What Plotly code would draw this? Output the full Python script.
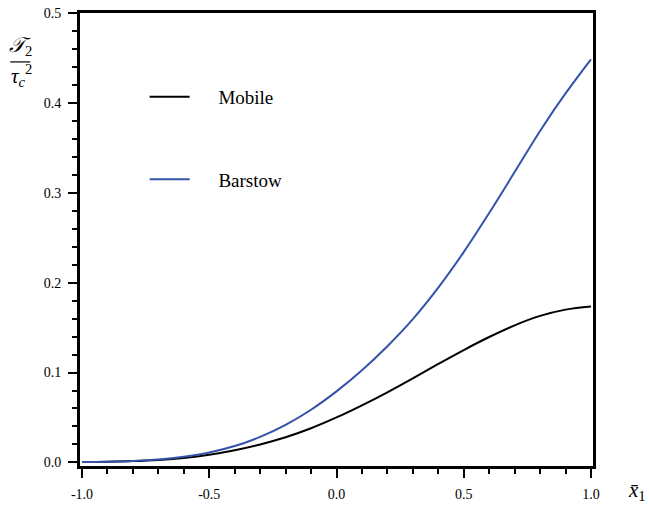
import plotly.graph_objects as go

# Normalised position along the span
x_vals = [-1.0, -0.9, -0.8, -0.7, -0.6, -0.5, -0.4, -0.3, -0.2, -0.1, 0.0,
          0.1, 0.2, 0.3, 0.4, 0.5, 0.6, 0.7, 0.8, 0.9, 1.0]

# Normalised quantity T2 / tau_c^2 for each site
mobile = [0.0005, 0.0008, 0.0015, 0.0028, 0.0050, 0.0085, 0.0135, 0.0200, 0.0280, 0.0380, 0.0500,
          0.0635, 0.0780, 0.0935, 0.1095, 0.1250, 0.1395, 0.1525, 0.1630, 0.1700, 0.1735]
barstow = [0.0005, 0.0008, 0.0016, 0.0032, 0.0062, 0.0110, 0.0182, 0.0284, 0.0418, 0.0586, 0.0790,
           0.1025, 0.1293, 0.1595, 0.1945, 0.2340, 0.2775, 0.3230, 0.3688, 0.4105, 0.4485]

x_ticks = [-1.0, -0.5, 0.0, 0.5, 1.0]
x_tick_text = ["-1.0", "-0.5", "0.0", "0.5", "1.0"]
y_ticks = [0.0, 0.1, 0.2, 0.3, 0.4, 0.5]
y_tick_text = ["0.0", "0.1", "0.2", "0.3", "0.4", "0.5"]

SERIF = "Liberation Serif, Times New Roman, serif"
GAP = "\u00a0" * 5  # space between legend sample line and label

fig = go.Figure()
fig.add_trace(go.Scatter(x=x_vals, y=mobile, mode="lines", name=GAP + "Mobile",
                         line=dict(color="#000000", width=2, shape="spline"),
                         legendgroup="a"))
fig.add_trace(go.Scatter(x=x_vals, y=barstow, mode="lines", name=GAP + "Barstow",
                         line=dict(color="#3352a8", width=2, shape="spline"),
                         legendgroup="b"))

axis_common = dict(
    showline=True, linewidth=3, linecolor="black", mirror=True,
    ticks="outside", ticklen=9, tickwidth=2, tickcolor="black",
    showgrid=False, zeroline=False, automargin=False,
    tickfont=dict(family=SERIF, size=14, color="black"),
)

fig.update_xaxes(range=[-1.008, 1.008], tickvals=x_ticks, ticktext=x_tick_text,
                 ticklabelstandoff=4,
                 minor=dict(dtick=0.1, tick0=-1.0, ticks="outside", ticklen=5,
                            tickwidth=2, tickcolor="black"),
                 **axis_common)
fig.update_yaxes(range=[-0.004, 0.5], tickvals=y_ticks, ticktext=y_tick_text,
                 ticklabelstandoff=4,
                 minor=dict(dtick=0.02, tick0=0.0, ticks="outside", ticklen=5,
                            tickwidth=2, tickcolor="black"),
                 **axis_common)

# Axis labels: x-bar-1 past the right end, T2 / tau_c^2 fraction at the top left
label_font = dict(family=SERIF, size=21, color="black")
fig.add_annotation(text="<i>x\u0304</i><sub>1</sub>", xref="paper", yref="paper",
                   x=1.0, y=0.0, xanchor="center", yanchor="middle",
                   xshift=44, yshift=-25, showarrow=False, font=label_font)
fig.add_annotation(text="<i>\U0001D4AF</i><sub>2</sub>", xref="paper", yref="paper",
                   x=0.0, y=1.0, xanchor="center", yanchor="middle",
                   xshift=-60, yshift=-33, showarrow=False, font=label_font)
fig.add_annotation(text="<i>τ<sub>c</sub></i><sup>2</sup>", xref="paper", yref="paper",
                   x=0.0, y=1.0, xanchor="center", yanchor="middle",
                   xshift=-59, yshift=-62, showarrow=False, font=label_font)
fig.add_shape(type="line", xref="paper", yref="paper", x0=-0.136, x1=-0.097,
              y0=0.892, y1=0.892, line=dict(color="black", width=1.2))

fig.update_layout(
    width=649, height=505,
    margin=dict(l=80, r=56, t=13, b=39),
    paper_bgcolor="white", plot_bgcolor="white",
    showlegend=True,
    legend=dict(x=0.126, y=0.857, xanchor="left", yanchor="top",
                bgcolor="rgba(0,0,0,0)", tracegroupgap=55,
                font=dict(family=SERIF, size=19, color="black"),
                itemwidth=40),
)

fig.write_html("out.html")
